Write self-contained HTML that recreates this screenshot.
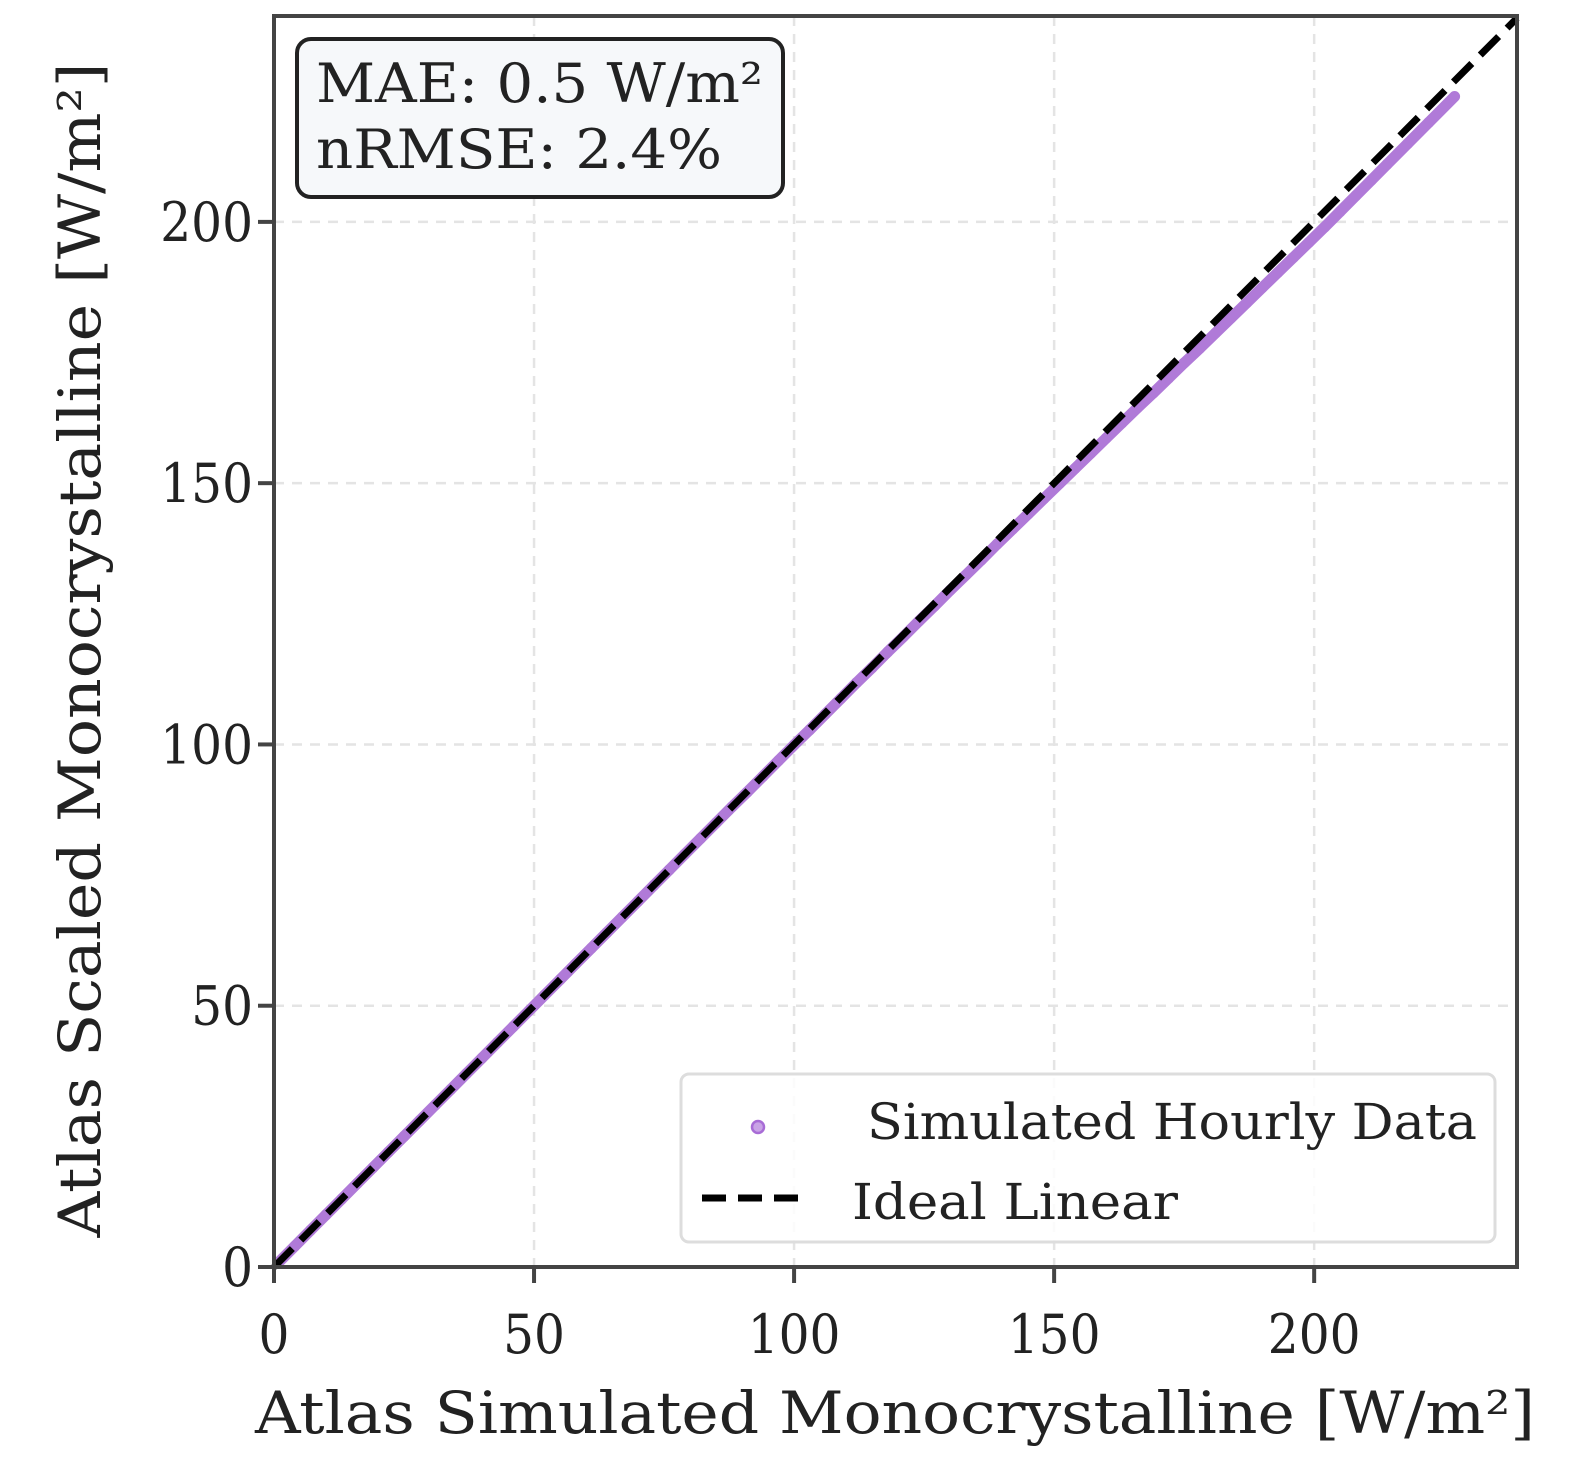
<!DOCTYPE html>
<html><head><meta charset="utf-8">
<style>
html,body{margin:0;padding:0;background:#fff;}
svg{display:block;font-family:"DejaVu Serif","Liberation Serif",serif;font-stretch:condensed;}
</style></head>
<body>
<svg id="chart" width="1590" height="1471" viewBox="0 0 1590 1471" xmlns="http://www.w3.org/2000/svg">
  <rect x="0" y="0" width="1590" height="1471" fill="#fff"/>
  <g id="grid"></g>
  <g id="points"></g>
  <g id="ideal"></g>
  <rect x="274" y="16" width="1243" height="1251" fill="none" stroke="#444" stroke-width="4"/>
  <g id="ticks"></g>
  <text x="895" y="1433" font-size="58" text-anchor="middle" textLength="1280" lengthAdjust="spacingAndGlyphs" fill="#222">Atlas Simulated Monocrystalline [W/m²]</text>
  <text transform="translate(100,650) rotate(-90)" font-size="58" text-anchor="middle" textLength="1175" lengthAdjust="spacingAndGlyphs" fill="#222">Atlas Scaled Monocrystalline [W/m²]</text>
  <g>
    <rect x="297" y="39" width="486" height="158" rx="14" fill="#f6f8fa" stroke="#222" stroke-width="4"/>
    <text x="316" y="102" font-size="54" textLength="447" lengthAdjust="spacingAndGlyphs" fill="#222">MAE: 0.5 W/m²</text>
    <text x="316" y="168" font-size="54" textLength="406" lengthAdjust="spacingAndGlyphs" fill="#222">nRMSE: 2.4%</text>
  </g>
  <g>
    <rect x="681" y="1074" width="814" height="168" rx="8" fill="#fff" fill-opacity="0.85" stroke="#ddd" stroke-width="3"/>
    <circle cx="758" cy="1127" r="6" fill="#c9a3e6" stroke="#a86cd6" stroke-width="2.5"/>
    <text x="867" y="1139" font-size="50" textLength="610" lengthAdjust="spacingAndGlyphs" fill="#222">Simulated Hourly Data</text>
    <line x1="702" y1="1198" x2="808" y2="1198" stroke="#000" stroke-width="7" stroke-dasharray="24,12"/>
    <text x="852" y="1219" font-size="50" textLength="326" lengthAdjust="spacingAndGlyphs" fill="#222">Ideal Linear</text>
  </g>
</svg>
<script>
const xValues = [1,4,7,10,13,16,19,22,25,28,31,34,37,40,43,46,49,52,55,58,61,64,67,70,73,76,79,82,85,88,91,94,97,100,103,106,109,112,115,118,121,124,127,130,133,136,139,142,145,148,151,154,157,160,163,166,169,172,175,178,181,184,187,190,193,196,199,202,205,208,211,214,218,222,227];
const yValues = [1,4,7,10,13,16,19,22,25,28,31,34,37,40,43,46,49,52,55,58,61,64,67,70,73,76,79,82,85,88,90.9,93.9,96.9,99.9,102.8,105.8,108.8,111.8,114.7,117.7,120.6,123.6,126.5,129.5,132.4,135.3,138.3,141.2,144.1,147,149.9,152.8,155.7,158.6,161.5,164.4,167.2,170.1,173,175.8,178.7,181.6,184.5,187.4,190.3,193.2,196.1,199,202,205,208,211,215,219,224];
const xTicks = [0,50,100,150,200];
const yTicks = [0,50,100,150,200];
const axisMax = [239, 239.4];

const NS = "http://www.w3.org/2000/svg";
const L=274, R=1517, T=16, B=1267;
function sx(v){return L + v/axisMax[0]*(R-L);}
function sy(v){return B - v/axisMax[1]*(B-T);}
function mk(tag, attrs, parent){const e=document.createElementNS(NS,tag);for(const k in attrs)e.setAttribute(k,attrs[k]);parent.appendChild(e);return e;}

const grid=document.getElementById('grid'), ticks=document.getElementById('ticks');
xTicks.forEach(v=>{
  const g=mk('line',{x1:sx(v),x2:sx(v),y1:T,y2:B,stroke:'#e4e4e4','stroke-width':2.5,'stroke-dasharray':'10,8'},grid);
  
  
  const t=mk('line',{x1:sx(v),x2:sx(v),y1:B,y2:B+16,stroke:'#444','stroke-width':4},ticks);
  
  
  const lb=mk('text',{x:sx(v),y:1353,'font-size':54,'text-anchor':'middle',fill:'#222'},ticks);
  lb.textContent=v;
  
  
});
yTicks.forEach(v=>{
  const g=mk('line',{x1:L,x2:R,y1:sy(v),y2:sy(v),stroke:'#e4e4e4','stroke-width':2.5,'stroke-dasharray':'10,8'},grid);
  
  
  const t=mk('line',{x1:L-16,x2:L,y1:sy(v),y2:sy(v),stroke:'#444','stroke-width':4},ticks);
  
  
  const lb=mk('text',{x:253,y:sy(v)+19,'font-size':54,'text-anchor':'end',fill:'#222'},ticks);
  lb.textContent=v;
  
  
});

const pts=document.getElementById('points');
for(let i=0;i<xValues.length-1;i++){
  const s=mk('line',{x1:sx(xValues[i]),y1:sy(yValues[i]),x2:sx(xValues[i+1]),y2:sy(yValues[i+1]),stroke:'#b07ad8','stroke-width':11,'stroke-linecap':'round'},pts);
  
  
}
for(let i=0;i<xValues.length;i++){
  const c=mk('circle',{cx:sx(xValues[i]),cy:sy(yValues[i]),r:5,fill:'#b07ad8',stroke:'none'},pts);
  
  
}

const ideal=document.getElementById('ideal');
const m=Math.min(axisMax[0],axisMax[1]);
const ln=mk('line',{x1:sx(0),y1:sy(0),x2:sx(m),y2:sy(m),stroke:'#000','stroke-width':7,'stroke-dasharray':'26,12'},ideal);


</script>
</body></html>
